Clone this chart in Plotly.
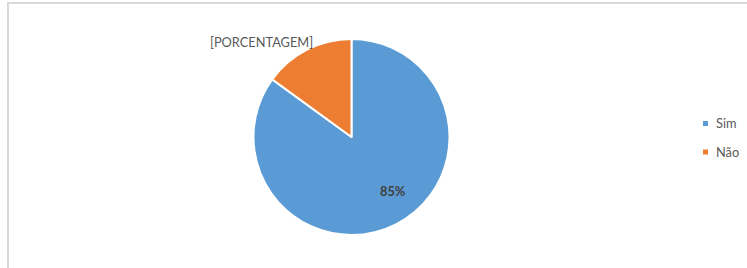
import plotly.graph_objects as go

labels = ["Sim", "Não"]
values = [85, 15]
colors = ["#5B9BD5", "#ED7D31"]
slice_text = ["<b>85%</b>", "[PORCENTAGEM]"]

W, H = 747, 268
cx, cy, r = 351.5, 137, 98

fig = go.Figure()
fig.add_trace(go.Pie(
    labels=labels, values=values, sort=False, direction="clockwise", rotation=0,
    marker=dict(colors=colors, line=dict(color="white", width=2)),
    textinfo="none", hoverinfo="label+percent", showlegend=False,
    domain=dict(x=[(cx - r) / W, (cx + r) / W], y=[1 - (cy + r) / H, 1 - (cy - r) / H]),
))

FONT = "Lato"

# data labels
label_pos = [(392, 200.5), (261.5, 32)]
for txt, (px, py), col in zip(slice_text, label_pos, ["#404040", "#595959"]):
    fig.add_annotation(x=px / W, y=1 - py / H, xref="paper", yref="paper", text=txt,
                       showarrow=False, font=dict(size=12.8, color=col, family=FONT))

# legend (custom, to match the small square keys)
leg_x, leg_y0, leg_dy = 705.5, 123.5, 28.5
for i, (lab, col) in enumerate(zip(labels, colors)):
    yy = leg_y0 + i * leg_dy
    fig.add_shape(type="rect", xref="paper", yref="paper",
                  x0=(leg_x - 2.5) / W, x1=(leg_x + 2.5) / W,
                  y0=1 - (yy + 2.5) / H, y1=1 - (yy - 2.5) / H,
                  fillcolor=col, line=dict(width=0))
    fig.add_annotation(x=(leg_x + 8.5) / W, y=1 - yy / H, xref="paper", yref="paper",
                       text=lab, showarrow=False, xanchor="left",
                       font=dict(size=12.8, color="#595959", family=FONT))

# chart border (partially outside the visible area)
fig.add_shape(type="rect", xref="paper", yref="paper", x0=8 / W, x1=1.02, y0=-0.05, y1=1 - 3 / H,
              line=dict(color="#D9D9D9", width=2))

fig.update_layout(
    width=W, height=H, margin=dict(l=0, r=0, t=0, b=0),
    paper_bgcolor="white", plot_bgcolor="white",
    showlegend=False,
    font=dict(family=FONT),
)

fig.write_html("out.html", config={"displayModeBar": False},
               post_script="document.body.style.margin='0';")
